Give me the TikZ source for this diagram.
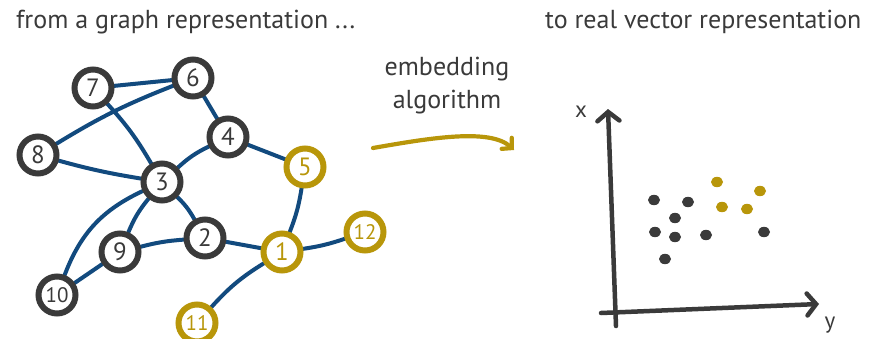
\documentclass[tikz,border=0pt]{standalone}
\usepackage{fontspec}
\setmainfont{PT Sans}
\usetikzlibrary{backgrounds,arrows.meta}
\definecolor{ink}{HTML}{3A3A3A}
\definecolor{gold}{HTML}{B8960A}
\definecolor{edgeblue}{HTML}{124A7E}
\begin{document}
\begin{tikzpicture}[x=1pt,y=-1pt,
  vtx/.style={circle,draw=ink,line width=6pt,fill=white,minimum size=37pt,
    inner sep=0pt,text=ink,font=\fontsize{25}{25}\selectfont},
  gvtx/.style={vtx,draw=gold,text=gold},
  wide/.style={font=\fontsize{21}{21}\selectfont},
  link/.style={draw=edgeblue,line width=4pt,line cap=round},
  caption/.style={text=ink,font=\fontsize{26}{33}\selectfont,inner sep=0pt},
  axis/.style={draw=ink,line width=4.5pt,line cap=round},
  pt/.style={fill=ink},
  gpt/.style={fill=gold}]
\useasboundingbox (0,0) rectangle (881,338);

% headings
\node[caption,anchor=base west] (h1) at (16,28) {from a graph representation ...};
\node[caption,anchor=base west] (h2) at (545,28) {to real vector representation};
\node[caption,anchor=base] (alg1) at (447,75) {embedding};
\node[caption,anchor=base] (alg2) at (447,108) {algorithm};

% graph vertices
\node[vtx]  (n7)  at (93,88)   {7};
\node[vtx]  (n6)  at (193,78)  {6};
\node[vtx]  (n4)  at (228,137) {4};
\node[vtx]  (n8)  at (38,155)  {8};
\node[vtx]  (n3)  at (162,182) {3};
\node[gvtx] (n5)  at (305,167) {5};
\node[vtx]  (n2)  at (205,238) {2};
\node[vtx]  (n9)  at (120,252) {9};
\node[gvtx] (n1)  at (282,252) {1};
\node[gvtx,wide] (n12) at (365,232) {12};
\node[vtx,wide]  (n10) at (57,295)  {10};
\node[gvtx,wide] (n11) at (197,323) {11};

% graph edges
\begin{pgfonlayer}{background}
  \draw[link] (n7) -- (n6);
  \draw[link] (n8) to[bend left=5] (n6);
  \draw[link] (n7) to[bend left=6] (n3);
  \draw[link] (n8) to[bend right=3] (n3);
  \draw[link] (n6) -- (n4);
  \draw[link] (n4) to[bend right=8] (n3);
  \draw[link] (n4) -- (n5);
  \draw[link] (n5) to[bend left=6] (n1);
  \draw[link] (n3) to[bend left=8] (n2);
  \draw[link] (n3) to[bend right=8] (n9);
  \draw[link] (n3) to[bend right=22] (n10);
  \draw[link] (n9) to[bend left=5] (n2);
  \draw[link] (n9) -- (n10);
  \draw[link] (n2) -- (n1);
  \draw[link] (n1) to[bend right=5] (n12);
  \draw[link] (n1) to[bend right=8] (n11);
\end{pgfonlayer}

% embedding arrow
\coordinate (a0) at (373,148);
\coordinate (a1) at (514,150);
\draw[draw=gold,line width=4.2pt,line cap=round,
  -{Straight Barb[length=7pt,width=15pt,line cap=round]}]
  (a0) .. controls (430,138) and (490,128) .. (a1);

% axes
\coordinate (xo) at (616,326);
\coordinate (xt) at (608,109);
\coordinate (yo) at (601,313);
\coordinate (yt) at (819,304);
\draw[axis,-{Straight Barb[length=9pt,width=22pt,line cap=round]}] (xo) -- (xt);
\draw[axis,-{Straight Barb[length=9pt,width=22pt,line cap=round]}] (yo) -- (yt);
\node[caption,font=\fontsize{23}{23}\selectfont] (xl) at (581,112) {x};
\node[caption,font=\fontsize{23}{23}\selectfont] (yl) at (830,325) {y};

% embedded points
\foreach \px/\py in {654/200,688/202,675/218,655/232,675/237,706/235,665/259,764/232}
  \fill[pt] (\px,\py) ellipse [x radius=6pt,y radius=5.2pt];
\foreach \px/\py in {717/182,722/207,747/209,760/191}
  \fill[gpt] (\px,\py) ellipse [x radius=6pt,y radius=5.2pt];
\end{tikzpicture}
\end{document}
